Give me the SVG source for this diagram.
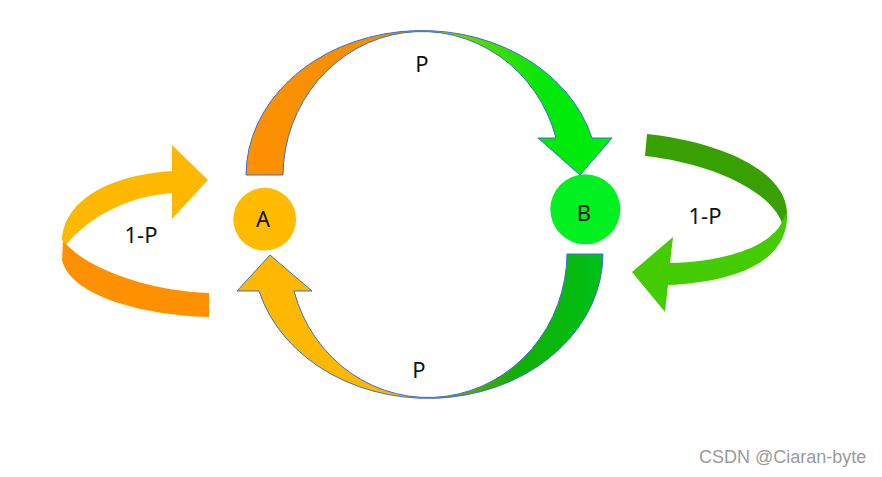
<svg xmlns="http://www.w3.org/2000/svg" width="882" height="477" viewBox="0 0 882 477">
<style>
  .lbl { font-family: "Noto Sans", "Liberation Sans", sans-serif; font-size: 22px; fill: #111; text-anchor: middle; }
  .arc { stroke: #3A6FD0; stroke-width: 1; stroke-linejoin: miter; }
  .wm { font-family: "Liberation Sans", Arial, sans-serif; font-size: 18px; fill: #9a9a9a; }
</style>
<defs>
  <linearGradient id="gTop" gradientUnits="userSpaceOnUse" x1="246" y1="0" x2="612" y2="0">
    <stop offset="0" stop-color="#FF9000"/>
    <stop offset="0.3" stop-color="#F29000"/>
    <stop offset="0.47" stop-color="#C89A00"/>
    <stop offset="0.53" stop-color="#A0CC00"/>
    <stop offset="0.66" stop-color="#48DC00"/>
    <stop offset="0.82" stop-color="#00E808"/>
    <stop offset="1" stop-color="#00EE10"/>
  </linearGradient>
  <linearGradient id="gBot" gradientUnits="userSpaceOnUse" x1="237" y1="0" x2="603" y2="0">
    <stop offset="0" stop-color="#FFB800"/>
    <stop offset="0.42" stop-color="#FFB800"/>
    <stop offset="0.5" stop-color="#D8C000"/>
    <stop offset="0.6" stop-color="#70A800"/>
    <stop offset="0.76" stop-color="#10B000"/>
    <stop offset="1" stop-color="#00C018"/>
  </linearGradient>
</defs>

<g id="connectors">
  <g id="edge-A-B">
    <path class="arc" fill="url(#gTop)" d="M246,175 A176,145 0 0 1 592,138 L612,138 L580,175 L538,138 L556,138 A139,145 0 0 0 283,175 Z"/>
    <text class="lbl" x="422" y="72">P</text>
  </g>
  <g id="edge-B-A">
    <path class="arc" fill="url(#gBot)" d="M603,254 A175,145 0 0 1 259,291 L237,291 L270,255 L312,291 L294,291 A139,145 0 0 0 567,254 Z"/>
    <text class="lbl" x="419" y="378">P</text>
  </g>
  <g id="edge-A-A">
    <path fill="#FF9000" d="M63,241 L62,260 C70,295 140,315 209,317 L209,293 C150,291 90,270 66,244 Z"/>
    <path fill="#FFB800" d="M172,171 C110,175 64,200 62,240 L66,245 C85,222 120,197 172,193 L172,219 L208,180 L172,145 Z"/>
    <text class="lbl" x="141" y="243">1-P</text>
  </g>
  <g id="edge-B-B">
    <path fill="#38A000" d="M647,134 C720,142 785,170 787,212 L786,224 L782,223 C770,190 710,163 645,156 Z"/>
    <path fill="#44CC00" d="M782,222 L787,212 C790,262 735,282 668,285 L665,312 L632,272 L673,237 L670,263 C720,262 770,248 782,222 Z"/>
    <text class="lbl" x="705" y="224">1-P</text>
  </g>
</g>

<g id="node-A">
  <circle cx="264.7" cy="219.2" r="31.4" fill="#FFBB00"/>
  <text class="lbl" x="263" y="227">A</text>
</g>
<g id="node-B">
  <circle cx="585.3" cy="209.3" r="35" fill="#00F020"/>
  <text class="lbl" x="584" y="221">B</text>
</g>

<text class="wm" x="699" y="463">CSDN @Ciaran-byte</text>
</svg>
